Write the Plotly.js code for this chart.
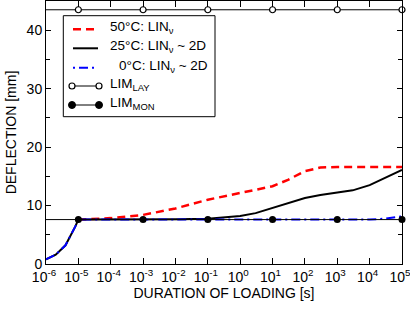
<!DOCTYPE html>
<html>
<head>
<meta charset="utf-8">
<script src="https://cdn.plot.ly/plotly-3.0.1.min.js"></script>
<style>html,body{margin:0;padding:0;background:#fff;}</style>
</head>
<body>
<div id="chart" style="width:410px;height:311px;"></div>
<script>
// Data (x = duration of loading [s], y = deflection [mm])
const xHot = [1e-5, 1e-4, 1e-3, 1e-2, 1e-1, 1, 10, 30, 100, 300, 1000, 1e4, 1e5];
const yHot = [7.6, 7.85, 8.4, 9.5, 11.0, 12.15, 13.3, 14.4, 15.9, 16.5, 16.6, 16.6, 16.6];

const xMid = [1e-6, 2e-6, 4e-6, 6e-6, 8e-6, 1e-5, 1e-4, 1e-3, 1e-2, 1e-1, 0.3, 1, 3, 10, 30, 100, 300, 1000, 3000, 1e4, 3e4, 1e5];
const yMid = [0.8, 1.6, 3.2, 5.0, 6.4, 7.6, 7.6, 7.6, 7.65, 7.75, 7.95, 8.2, 8.7, 9.6, 10.5, 11.3, 11.8, 12.2, 12.6, 13.5, 14.7, 16.1];

const xCold = [1e-6, 2e-6, 4e-6, 6e-6, 8e-6, 1e-5, 1e4, 3e4, 1e5];
const yCold = [0.8, 1.6, 3.2, 5.0, 6.4, 7.6, 7.6, 7.75, 8.15];

// limit lines: full extent, and the points that carry markers
const xLimLine = [1e-6, 1e5];
const xLimMarks = [1e-5, 1e-3, 1e-1, 10, 1000, 1e5];
const limLay = 43.5;
const limMon = 7.6;

const tickVals = [1e-6, 1e-5, 1e-4, 1e-3, 1e-2, 1e-1, 1, 10, 100, 1000, 1e4, 1e5];
const tickText = ['10<sup>-6</sup>','10<sup>-5</sup>','10<sup>-4</sup>','10<sup>-3</sup>','10<sup>-2</sup>','10<sup>-1</sup>','10<sup>0</sup>','10<sup>1</sup>','10<sup>2</sup>','10<sup>3</sup>','10<sup>4</sup>','10<sup>5</sup>'];

const xTitle = 'DURATION OF LOADING [s]';
const yTitle = 'DEFLECTION [mm]';
const legendLabels = ['50°C: LIN<sub>ν</sub>', '25°C: LIN<sub>ν</sub> ~ 2D', '0°C: LIN<sub>ν</sub> ~ 2D', 'LIM<sub>LAY</sub>', 'LIM<sub>MON</sub>'];

const traces = [
  {x: xHot, y: yHot, mode: 'lines', name: legendLabels[0],
   line: {color: '#ff0000', width: 2.5, dash: '8px,5px'}},
  {x: xMid, y: yMid, mode: 'lines', name: legendLabels[1],
   line: {color: '#000000', width: 2}},
  {x: xCold, y: yCold, mode: 'lines', name: legendLabels[2],
   line: {color: '#0000ff', width: 2, dash: '9px,4px,2px,4px'}},
  {x: xLimLine, y: xLimLine.map(() => limLay), mode: 'lines', name: legendLabels[3],
   line: {color: '#000000', width: 1}},
  {x: xLimMarks, y: xLimMarks.map(() => limLay), mode: 'markers', cliponaxis: false, showlegend: false,
   marker: {symbol: 'circle', size: 6, color: '#ffffff', line: {width: 1.2, color: '#000000'}}},
  {x: xLimLine, y: xLimLine.map(() => limMon), mode: 'lines', name: legendLabels[4],
   line: {color: '#000000', width: 1}},
  {x: xLimMarks, y: xLimMarks.map(() => limMon), mode: 'markers', cliponaxis: false, showlegend: false,
   marker: {symbol: 'circle', size: 7, color: '#000000'}}
];

// hand-built legend (paper coordinates)
const px = v => (v - 46) / 356;
const py = v => (264 - v) / 263;
const rowY = [29.3, 48.3, 67.7, 86, 105].map(py);
const sx0 = px(73), sx1 = px(98);
const shapes = [
  {type: 'rect', xref: 'paper', yref: 'paper', x0: px(63.3), x1: px(215), y0: py(116.7), y1: py(15.7),
   line: {color: '#000000', width: 1}, fillcolor: '#ffffff'},
  {type: 'line', xref: 'paper', yref: 'paper', x0: sx0, x1: sx1, y0: rowY[0], y1: rowY[0],
   line: {color: '#ff0000', width: 2.5, dash: '8px,5px'}},
  {type: 'line', xref: 'paper', yref: 'paper', x0: sx0, x1: sx1, y0: rowY[1], y1: rowY[1],
   line: {color: '#000000', width: 2}},
  {type: 'line', xref: 'paper', yref: 'paper', x0: sx0, x1: sx1, y0: rowY[2], y1: rowY[2],
   line: {color: '#0000ff', width: 2, dash: '2px,4px,9px,4px'}},
  {type: 'line', xref: 'paper', yref: 'paper', x0: px(72), x1: px(99), y0: rowY[3], y1: rowY[3],
   line: {color: '#000000', width: 1}},
  {type: 'line', xref: 'paper', yref: 'paper', x0: px(72), x1: px(99), y0: rowY[4], y1: rowY[4],
   line: {color: '#000000', width: 1}}
];
[72, 99].forEach(cx => {
  shapes.push({type: 'circle', xref: 'paper', yref: 'paper', xsizemode: 'pixel', ysizemode: 'pixel',
    xanchor: px(cx), yanchor: rowY[3], x0: -3, x1: 3, y0: -3, y1: 3,
    line: {color: '#000000', width: 1.2}, fillcolor: '#ffffff'});
  shapes.push({type: 'circle', xref: 'paper', yref: 'paper', xsizemode: 'pixel', ysizemode: 'pixel',
    xanchor: px(cx), yanchor: rowY[4], x0: -3.5, x1: 3.5, y0: -3.5, y1: 3.5,
    line: {color: '#000000', width: 1}, fillcolor: '#000000'});
});
const textX = [108.3, 108.3, 116.7, 108.3, 108.3].map(px);
const annotations = legendLabels.map((t, i) => ({
  text: t, xref: 'paper', yref: 'paper', x: textX[i], y: rowY[i] + 0.006,
  xanchor: 'left', yanchor: 'middle', showarrow: false, font: {size: 13.5, color: '#000000'}
}));

const layout = {
  width: 410, height: 311,
  margin: {l: 46, r: 8, t: 1, b: 47},
  paper_bgcolor: '#ffffff', plot_bgcolor: '#ffffff',
  font: {family: 'Liberation Sans, Arial, sans-serif', size: 14, color: '#000000'},
  showlegend: false,
  shapes: shapes,
  annotations: annotations,
  xaxis: {type: 'log', range: [-6, 5.00001], tickvals: tickVals, ticktext: tickText,
          ticklabeloverflow: 'allow', ticklabelshift: -2,
          ticks: 'inside', ticklen: 6, tickcolor: '#000', showgrid: false, zeroline: false,
          showline: true, linecolor: '#000', linewidth: 1, mirror: 'ticks',
          tickfont: {size: 14},
          title: {text: xTitle, font: {size: 14}, standoff: 2}},
  yaxis: {range: [0, 45], tickvals: [0, 10, 20, 30, 40],
          ticklabeloverflow: 'allow',
          ticks: 'inside', ticklen: 5, tickcolor: '#000', showgrid: false, zeroline: false,
          showline: true, linecolor: '#000', linewidth: 1, mirror: 'ticks',
          minor: {tickvals: [5, 15, 25, 35], ticks: 'inside', ticklen: 4, tickcolor: '#000', showgrid: false},
          tickfont: {size: 14},
          title: {text: yTitle, font: {size: 14}, standoff: 6}}
};

Plotly.newPlot('chart', traces, layout, {displayModeBar: false, staticPlot: true});
</script>
</body>
</html>
